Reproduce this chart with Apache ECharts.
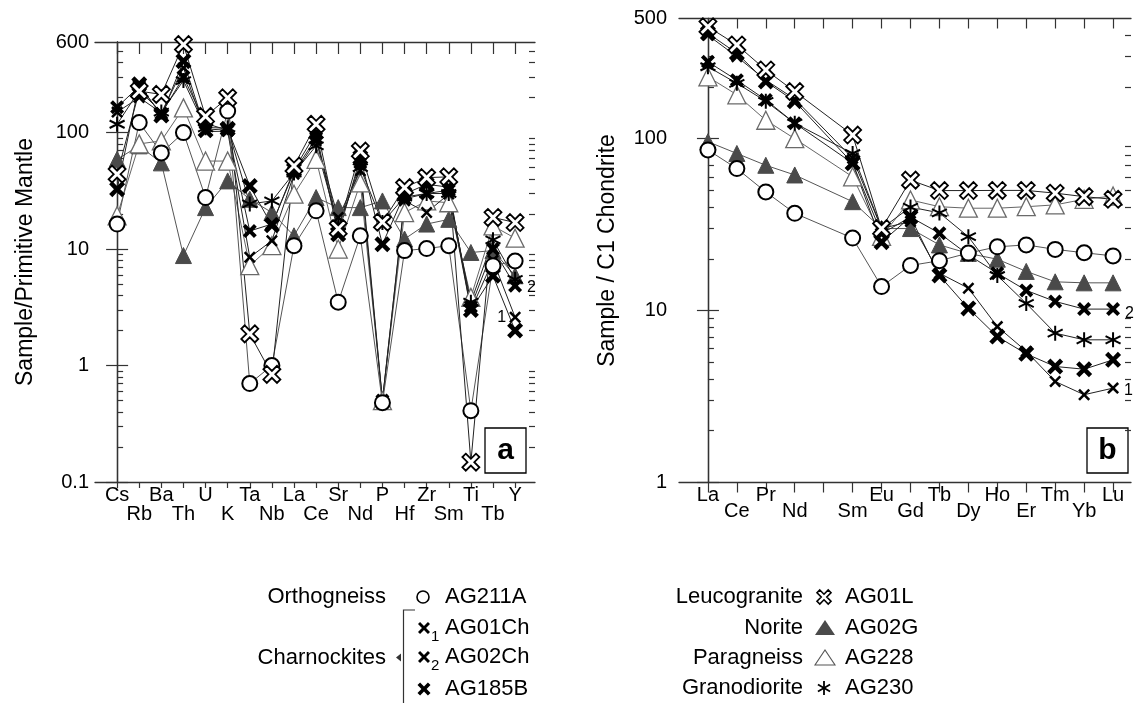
<!DOCTYPE html>
<html><head><meta charset="utf-8">
<script src="https://cdn.jsdelivr.net/npm/echarts@6/dist/echarts.min.js"></script>
<style>html,body{margin:0;padding:0;background:#fff}#c{width:1135px;height:703px}</style>
</head><body><div id="c"></div>
<script>
// ---- categories ----
const spiderElements = ['Cs','Rb','Ba','Th','U','K','Ta','Nb','La','Ce','Sr','Nd','P','Hf','Zr','Sm','Ti','Tb','Y'];
const reeElements = ['La','Ce','Pr','Nd','','Sm','Eu','Gd','Tb','Dy','Ho','Er','Tm','Yb','Lu'];
const pmTicks = [0.1, 1, 10, 100, 600];
const chTicks = [1, 10, 100, 500];

// ---- (a) Sample / Primitive Mantle ----
const pm_AG211A = [16.4, 122, 67, 100, 27.7, 153, 0.70, 1.0, 10.7, 21.3, 3.5, 13, 0.48, 9.7, 10.1, 10.7, 0.41, 7.2, 7.9];
const pm_AG01Ch = [150, 200, 148, 360, 102, 103, 8.5, 11.8, 44, 85, 18.7, 47, 0.5, 26, 20.6, 29.7, 3.0, 8.0, 2.6];
const pm_AG02Ch = [165, 250, 145, 300, 120, 105, 14.3, 16.4, 46, 90, 15, 55, 0.5, 27, 30, 32, 3.2, 10, 4.85];
const pm_AG185B = [32.7, 260, 140, 411, 105, 108, 34.8, 16, 48, 100, 13.4, 61, 11, 29.7, 36, 34, 3.0, 5.9, 2.0];
const pm_AG01L  = [44, 227, 213, 571, 138, 199, 1.87, 0.84, 51.7, 118, 15, 69.5, 17, 33.7, 41.1, 41.7, 0.148, 18.7, 16.9];
const pm_AG02G  = [59, 77, 55, 8.8, 22.7, 38.5, 26.8, 20.6, 13, 27.7, 22.7, 22.7, 25.9, 12.2, 16.4, 18, 9.35, 9.7, 5.9];
const pm_AG228  = [19.3, 80, 85, 163, 57, 57, 7.2, 10.7, 29.6, 59, 10, 37, 0.5, 20.6, 25.9, 25, 3.85, 15.8, 12.4];
const pm_AG230  = [118, 230, 150, 280, 110, 110, 24.4, 25.9, 45, 77, 16, 50, 16.9, 28, 30, 30, 3.5, 12, 5.5];

// ---- (b) Sample / C1 Chondrite (Pm not analysed) ----
const ree_AG211A = [86, 67, 49, 36.8, null, 26.4, 13.8, 18.3, 19.5, 21.6, 23.5, 24.1, 22.7, 21.7, 20.8];
const ree_AG01Ch = [400, 300, 219, 170, null, 77, 30, 33, 16.5, 13.5, 8.07, 5.8, 3.87, 3.24, 3.54];
const ree_AG02Ch = [280, 219, 168, 123, null, 72, 28, 35, 28.2, 21.1, 16.5, 13.1, 11.3, 10.2, 10.2];
const ree_AG185B = [410, 314, 215, 165, null, 72, 25, 35, 16, 10.3, 7.06, 5.6, 4.73, 4.56, 5.17];
const ree_AG01L  = [448, 351, 251, 188, null, 105, 30, 57.4, 49.9, 49.9, 50, 50, 48.2, 46, 44.4];
const ree_AG02G  = [96, 82, 70, 61.5, null, 43, 30, 30, 24.1, 21.5, 19.9, 16.9, 14.7, 14.5, 14.5];
const ree_AG228  = [229, 180, 128, 100, null, 60, 27, 44, 40.2, 39.4, 39.4, 40.2, 41.2, 44.4, 46.4];
const ree_AG230  = [262, 210, 165, 123, null, 82, 30, 40, 37, 26.9, 16, 11, 7.39, 6.76, 6.76];

// ---- styling ----
const FONT = '"Liberation Sans", Arial, Helvetica, sans-serif';
const X_BOLD = 'path://M2,0L5,3L8,0L10,2L7,5L10,8L8,10L5,7L2,10L0,8L3,5L0,2Z';
const X_THIN = 'path://M1.5,0L5,3.5L8.5,0L10,1.5L6.5,5L10,8.5L8.5,10L5,6.5L1.5,10L0,8.5L3.5,5L0,1.5Z';
const STAR = 'path://M5,0L5,10M0.67,2.5L9.33,7.5M0.67,7.5L9.33,2.5';
const XPTS_BOLD = [[2,0],[5,3],[8,0],[10,2],[7,5],[10,8],[8,10],[5,7],[2,10],[0,8],[3,5],[0,2]];
const XPTS_MID = [[1.7,0],[5,3.3],[8.3,0],[10,1.7],[6.7,5],[10,8.3],[8.3,10],[5,6.7],[1.7,10],[0,8.3],[3.3,5],[0,1.7]];

const styles = {
  AG02G:  {symbol:'triangle', size:16, item:{color:'#4a4a4a', borderColor:'#4a4a4a', borderWidth:1}, line:'#555'},
  AG228:  {symbol:'triangle', size:18, item:{color:'#fff', borderColor:'#6a6a6a', borderWidth:1.3}, line:'#666'},
  AG230:  {symbol:STAR, size:15, item:{color:'none', borderColor:'#000', borderWidth:2}, line:'#222'},
  AG01Ch: {symbol:X_THIN, size:12, item:{color:'#000'}, line:'#222'},
  AG02Ch: {symbol:X_BOLD, size:14, item:{color:'#000'}, line:'#222'},
  AG185B: {symbol:X_BOLD, size:16, item:{color:'#000'}, line:'#222'},
  AG211A: {symbol:'circle', size:15, item:{color:'#fff', borderColor:'#000', borderWidth:2}, line:'#555'},
  AG01L:  {symbol:X_BOLD, size:17, item:{color:'#fff', borderColor:'#000', borderWidth:1.8}, line:'#222'}
};

function toPairs(arr){ return arr.map((v,i)=>[i,v]).filter(d=>d[1]!=null); }

function mkSeries(name, arr, xi, yi, endTag, tagPos){
  const st = styles[name];
  const data = toPairs(arr).map((d,k,all)=>{
    if(endTag && k===all.length-1){
      return {value:d, label:{show:true, formatter:endTag, position:tagPos[0], offset:tagPos[1],
        fontSize:16, fontFamily:FONT, color:'#000'}};
    }
    return d;
  });
  return {
    name, type:'line', xAxisIndex:xi, yAxisIndex:yi, data,
    symbol:st.symbol, symbolSize:st.size, itemStyle:st.item,
    lineStyle:{color:st.line, width:1}, connectNulls:true, silent:true, z:3
  };
}

function minorValues(lo, hi){
  const out=[];
  for(let p=-2;p<=3;p++){ for(let m=2;m<=9;m++){ const v=m*Math.pow(10,p); if(v>lo*1.0001 && v<hi*0.9999) out.push(+v.toPrecision(3)); } }
  return out;
}
function majorValues(lo, hi){
  const out=[]; for(let p=-2;p<=3;p++){ const v=Math.pow(10,p); if(v>=lo*0.9999 && v<=hi*1.0001) out.push(+v.toPrecision(3)); } return out;
}

const axisLine = {show:true, lineStyle:{color:'#333', width:1.3}};
function yAxes(grid, lo, hi, labels, title, gap, lblMargin, tsize){
  const common = {type:'log', logBase:10, gridIndex:grid, min:lo, max:hi, splitLine:{show:false}, minorTick:{show:false}};
  return [
    Object.assign({}, common, {position:'left', axisLine,
      axisTick:{show:true, inside:true, length:11, lineStyle:{color:'#333', width:1.2}, customValues:majorValues(lo,hi)},
      axisLabel:{show:true, customValues:labels, showMinLabel:true, showMaxLabel:true, margin:lblMargin, fontSize:20, fontFamily:FONT, color:'#000', formatter:v=>String(+(+v).toPrecision(3))},
      name:title, nameLocation:'middle', nameRotate:90, nameGap:gap,
      nameTextStyle:{fontSize:tsize, fontFamily:FONT, color:'#000'}}),
    Object.assign({}, common, {position:'left', axisLine:{show:false},
      axisTick:{show:true, inside:true, length:6, lineStyle:{color:'#333', width:1.2}, customValues:minorValues(lo,hi)},
      axisLabel:{show:false}}),
    Object.assign({}, common, {position:'right', axisLine,
      axisTick:{show:true, inside:true, length:11, lineStyle:{color:'#333', width:1.2}, customValues:majorValues(lo,hi)},
      axisLabel:{show:false}}),
    Object.assign({}, common, {position:'right', axisLine:{show:false},
      axisTick:{show:true, inside:true, length:6, lineStyle:{color:'#333', width:1.2}, customValues:minorValues(lo,hi)},
      axisLabel:{show:false}})
  ];
}
// bottom axis with ticks + upper label row, a second bottom axis for the lower label row, top axis for ticks
function xAxes(grid, cats, min, max, botLen, topLen, rowGap){
  const idx = cats.map((c,i)=>i);
  const even = idx.filter(i=>i%2===0), odd = idx.filter(i=>i%2===1);
  const common = {type:'value', gridIndex:grid, min, max, splitLine:{show:false}};
  const lbl = (vals, margin)=>({show:true, customValues:vals, showMinLabel:true, showMaxLabel:true, hideOverlap:false,
      margin, fontSize:20, fontFamily:FONT, color:'#000', formatter:v=>cats[Math.round(v)]||''});
  return [
    Object.assign({}, common, {position:'bottom', axisLine,
      axisTick:{show:true, inside:false, length:botLen, lineStyle:{color:'#333', width:1.2}, customValues:idx},
      axisLabel:lbl(even, 3)}),
    Object.assign({}, common, {position:'bottom', axisLine:{show:false}, axisTick:{show:false},
      axisLabel:lbl(odd, 3+rowGap)}),
    Object.assign({}, common, {position:'top', axisLine,
      axisTick:{show:true, inside:true, length:topLen, lineStyle:{color:'#333', width:1.2}, customValues:idx},
      axisLabel:{show:false}})
  ];
}

const order = ['AG02G','AG228','AG230','AG01Ch','AG02Ch','AG185B','AG211A','AG01L'];
const pmData = {AG211A:pm_AG211A, AG01Ch:pm_AG01Ch, AG02Ch:pm_AG02Ch, AG185B:pm_AG185B, AG01L:pm_AG01L, AG02G:pm_AG02G, AG228:pm_AG228, AG230:pm_AG230};
const reeData = {AG211A:ree_AG211A, AG01Ch:ree_AG01Ch, AG02Ch:ree_AG02Ch, AG185B:ree_AG185B, AG01L:ree_AG01L, AG02G:ree_AG02G, AG228:ree_AG228, AG230:ree_AG230};

const series = [];
order.forEach(n=>{
  let tag=null, pos=null, tag2=null, pos2=null;
  if(n==='AG01Ch'){ tag='1'; pos=['left',[2,0]]; tag2='1'; pos2=['right',[0,2]]; }
  if(n==='AG02Ch'){ tag='2'; pos=['right',[0,2]]; tag2='2'; pos2=['right',[0,4]]; }
  series.push(mkSeries(n, pmData[n], 0, 0, tag, pos));
  series.push(mkSeries(n, reeData[n], 3, 4, tag2, pos2));
});

// ---- legend drawn as graphics ----
const LF = 22;
function txt(x,y,t,align,size,bold){ return {type:'text', x, y, style:{text:t, fill:'#000', font:(bold?'bold ':'')+(size||LF)+'px '+FONT, align:align||'left', verticalAlign:'middle'}}; }
function xSym(cx,cy,s,fill,stroke,lw,pts){
  const P = (pts||XPTS_BOLD).map(p=>[cx-s/2+p[0]*s/10, cy-s/2+p[1]*s/10]);
  return {type:'polygon', shape:{points:P}, style:{fill, stroke:stroke||null, lineWidth:lw||0}};
}
function starSym(cx,cy,s,lw){
  const r=s/2, a=Math.sqrt(3)/2*r;
  return {type:'group', children:[
    {type:'line', shape:{x1:cx,y1:cy-r,x2:cx,y2:cy+r}, style:{stroke:'#000', lineWidth:lw}},
    {type:'line', shape:{x1:cx-a,y1:cy-r/2,x2:cx+a,y2:cy+r/2}, style:{stroke:'#000', lineWidth:lw}},
    {type:'line', shape:{x1:cx-a,y1:cy+r/2,x2:cx+a,y2:cy-r/2}, style:{stroke:'#000', lineWidth:lw}}
  ]};
}
const graphics = [
  txt(386,597,'Orthogneiss','right'),
  {type:'circle', shape:{cx:423,cy:597,r:6}, style:{fill:'#fff', stroke:'#000', lineWidth:1.6}},
  txt(445,597,'AG211A'),
  {type:'polyline', shape:{points:[[415,610],[403.5,610],[403.5,703]]}, style:{stroke:'#333', lineWidth:1.2, fill:null}},
  {type:'polygon', shape:{points:[[401,653.5],[401,661.5],[396,657.5]]}, style:{fill:'#333'}},
  txt(386,658,'Charnockites','right'),
  xSym(424,628,12,'#000',null,0,XPTS_MID),
  txt(431,637,'1','left',15),
  txt(445,628,'AG01Ch'),
  xSym(424,657,12,'#000',null,0,XPTS_MID),
  txt(431,666,'2','left',15),
  txt(445,657,'AG02Ch'),
  xSym(424,689,13,'#000'),
  txt(445,689,'AG185B'),

  txt(803,597,'Leucogranite','right'),
  xSym(824,597,14,'#fff','#000',1.6),
  txt(845,597,'AG01L'),
  txt(803,628,'Norite','right'),
  {type:'polygon', shape:{points:[[815,635],[835,635],[825,620]]}, style:{fill:'#4a4a4a'}},
  txt(845,628,'AG02G'),
  txt(803,658,'Paragneiss','right'),
  {type:'polygon', shape:{points:[[815,665],[835,665],[825,650]]}, style:{fill:'#fff', stroke:'#555', lineWidth:1.1}},
  txt(845,658,'AG228'),
  txt(803,688,'Granodiorite','right'),
  starSym(824,688,14,1.8),
  txt(845,688,'AG230'),

  // panel tags
  {type:'rect', shape:{x:485,y:428,width:41,height:45}, style:{fill:'#fff', stroke:'#000', lineWidth:1.3}},
  txt(505.5,451,'a','center',30,true),
  {type:'rect', shape:{x:1087,y:428,width:41,height:45}, style:{fill:'#fff', stroke:'#000', lineWidth:1.3}},
  txt(1107.5,451,'b','center',30,true)
];

const chart = echarts.init(document.getElementById('c'), null, {renderer:'canvas'});
chart.setOption({
  animation:false,
  backgroundColor:'#fff',
  textStyle:{fontFamily:FONT},
  grid:[
    {left:95, top:42, width:440, height:440, containLabel:false, outerBoundsMode:'none'},
    {left:679, top:18.5, width:452, height:464, containLabel:false, outerBoundsMode:'none'}
  ],
  xAxis:[].concat(xAxes(0, spiderElements, -1, 18.9, 6, 12, 19), xAxes(1, reeElements, -1, 14.62, 10, 10, 16)),
  yAxis:[].concat(yAxes(0, 0.1, 600, pmTicks, 'Sample/Primitive Mantle', 58, 6, 23), yAxes(1, 1, 500, chTicks, 'Sample / C1 Chondrite', 60, 12, 23)),
  series,
  graphic:{elements:graphics}
});
</script></body></html>
